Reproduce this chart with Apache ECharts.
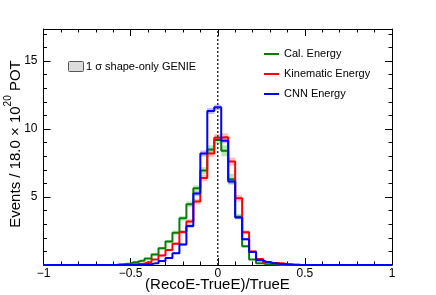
<!DOCTYPE html>
<html><head><meta charset="utf-8">
<script src="https://cdn.jsdelivr.net/npm/echarts@6/dist/echarts.min.js"></script>
<style>html,body{margin:0;padding:0;background:#fff;}#c{width:436px;height:295px;}</style>
</head><body><div id="c"></div>
<script>
// bin centres (width 0.04)
const binCenters = [-1.00,-0.96,-0.92,-0.88,-0.84,-0.80,-0.76,-0.72,-0.68,-0.64,-0.60,-0.56,-0.52,-0.48,-0.44,-0.40,-0.36,-0.32,-0.28,-0.24,-0.20,-0.16,-0.12,-0.08,-0.04,0.00,0.04,0.08,0.12,0.16,0.20,0.24,0.28,0.32,0.36,0.40,0.44,0.48,0.52,0.56,0.60,0.64,0.68,0.72,0.76,0.80,0.84,0.88,0.92,0.96,1.00];
const seriesNames = ['Cal. Energy','Kinematic Energy','CNN Energy'];
const calE = [0,0,0,0,0,0,0,0,0,0,0,0.05,0.1,0.2,0.32,0.47,0.78,1.23,1.72,2.38,3.43,4.47,5.64,6.94,8.5,9.19,8.4,6.3,3.55,1.37,0.4,0.12,0.06,0.03,0,0,0,0,0,0,0,0,0,0,0,0,0,0,0,0,0];
const calErr = [0,0,0,0,0,0,0,0,0,0,0,0.02,0.03,0.04,0.05,0.06,0.08,0.1,0.12,0.15,0.18,0.2,0.22,0.25,0.3,0.3,0.4,0.4,0.2,0.1,0.04,0.02,0.01,0.01,0,0,0,0,0,0,0,0,0,0,0,0,0,0,0,0,0];
const kinE = [0,0,0,0,0,0,0,0,0,0,0,0,0.03,0.06,0.1,0.2,0.4,0.7,1.1,1.57,2.43,3.2,4.66,6.4,8.2,9.36,9.4,7.6,4.9,2.4,1.0,0.44,0.2,0.15,0.12,0.06,0.02,0,0,0,0,0,0,0,0,0,0,0,0,0,0];
const kinErr = [0,0,0,0,0,0,0,0,0,0,0,0,0.01,0.02,0.03,0.04,0.05,0.07,0.09,0.11,0.14,0.17,0.2,0.24,0.25,0.25,0.28,0.3,0.25,0.15,0.08,0.04,0.03,0.02,0.01,0.01,0.01,0,0,0,0,0,0,0,0,0,0,0,0,0,0];
const cnnE = [0,0,0,0,0,0,0,0,0,0,0,0,0,0,0.02,0.05,0.12,0.3,0.52,0.87,1.5,2.87,5.25,8.2,11.32,11.59,9.14,6.13,3.5,1.89,0.95,0.35,0.22,0.12,0.07,0.04,0.02,0,0,0,0,0,0,0,0,0,0,0,0,0,0];
const cnnErr = [0,0,0,0,0,0,0,0,0,0,0,0,0,0,0.01,0.02,0.03,0.04,0.06,0.08,0.1,0.14,0.18,0.22,0.22,0.2,0.2,0.18,0.12,0.08,0.05,0.03,0.02,0.01,0.01,0.01,0.01,0,0,0,0,0,0,0,0,0,0,0,0,0,0];
const xTickLabels = {'-1':'\u22121','-0.5':'\u22120.5','0':'0','0.5':'0.5','1':'1'};
const yTickLabels = {'5':'5','10':'10','15':'15'};
const xMin = -1, xMax = 1, yMin = 0, yMax = 17.35;

const lineColors = ['#0b7a0b','#ff0000','#0000ff'];
const bandColors = ['rgba(60,210,60,0.4)','rgba(255,90,90,0.4)','rgba(90,90,255,0.4)'];
const halfW = 0.02;

function bandSeries(vals, errs, idx){
  const data = binCenters.map((c,i)=>[c, vals[i]-errs[i], vals[i]+errs[i]]).filter((d,i)=>errs[i]>0);
  return {
    type:'custom', silent:true, z:1,
    data: data,
    encode:{x:0,y:[1,2]},
    renderItem: function(params, api){
      const c = api.value(0), lo = api.value(1), hi = api.value(2);
      const p1 = api.coord([c-halfW, hi]);
      const p2 = api.coord([c+halfW, lo]);
      return {type:'rect', shape:{x:p1[0], y:p1[1], width:p2[0]-p1[0], height:p2[1]-p1[1]}, style:{fill:bandColors[idx]}};
    }
  };
}
function lineSeries(vals, idx){
  return {
    name: seriesNames[idx], type:'line', step:'middle', symbol:'none', clip:false, z:3+idx,
    data: binCenters.map((c,i)=>[c, vals[i]]),
    lineStyle:{color:lineColors[idx], width:2}, itemStyle:{color:lineColors[idx]}
  };
}

const chart = echarts.init(document.getElementById('c'), null, {renderer:'canvas'});
const fontFam = 'Liberation Sans, Arial, sans-serif';
const tickCommon = (len) => ({show:true, inside:true, length:len, lineStyle:{color:'#000', width:1}});
chart.setOption({
  animation:false,
  backgroundColor:'#fff',
  grid:{left:43.5, right:44, top:29, bottom:30, show:false},
  xAxis:[
    {type:'value', min:xMin, max:xMax, interval:0.5, position:'bottom',
     axisLine:{show:true, onZero:false, lineStyle:{color:'#000', width:1}},
     axisTick:tickCommon(7), minorTick:{show:true, splitNumber:5, length:3.5, lineStyle:{color:'#000', width:1}},
     splitLine:{show:false},
     axisLabel:{margin:3, fontSize:12, color:'#000', fontFamily:fontFam, formatter:v=>xTickLabels[String(v)] ?? ''}},
    {type:'value', min:xMin, max:xMax, interval:0.5, position:'top',
     axisLine:{show:true, onZero:false, lineStyle:{color:'#000', width:1}},
     axisTick:tickCommon(7), minorTick:{show:true, splitNumber:5, length:3.5, lineStyle:{color:'#000', width:1}},
     splitLine:{show:false}, axisLabel:{show:false}}
  ],
  yAxis:[
    {type:'value', min:yMin, max:yMax, interval:5, position:'left',
     axisLine:{show:true, onZero:false, lineStyle:{color:'#000', width:1}},
     axisTick:tickCommon(7), splitLine:{show:false},
     axisLabel:{margin:6, fontSize:12, color:'#000', fontFamily:fontFam, showMaxLabel:false, formatter:v=>yTickLabels[String(v)] ?? ''}},
    {type:'value', min:yMin, max:yMax, interval:1, position:'left',
     axisLine:{show:false, onZero:false}, axisTick:tickCommon(3.5), splitLine:{show:false}, axisLabel:{show:false}},
    {type:'value', min:yMin, max:yMax, interval:5, position:'right',
     axisLine:{show:true, onZero:false, lineStyle:{color:'#000', width:1}},
     axisTick:tickCommon(7), splitLine:{show:false}, axisLabel:{show:false}},
    {type:'value', min:yMin, max:yMax, interval:1, position:'right',
     axisLine:{show:false, onZero:false}, axisTick:tickCommon(3.5), splitLine:{show:false}, axisLabel:{show:false}}
  ],
  legend:{
    orient:'vertical', left:264, top:47, padding:0, itemGap:6, itemWidth:15, itemHeight:2, icon:'rect',
    data:seriesNames,
    textStyle:{fontSize:11, lineHeight:14, color:'#000', fontFamily:fontFam}
  },
  series:[
    bandSeries(calE, calErr, 0), bandSeries(kinE, kinErr, 1), bandSeries(cnnE, cnnErr, 2),
    lineSeries(calE,0), lineSeries(kinE,1), lineSeries(cnnE,2),
    {type:'line', symbol:'none', silent:true, z:10, clip:false, data:[[0,yMin],[0,yMax]],
     lineStyle:{color:'#333', width:1.5, type:[2,2]}}
  ],
  graphic:[
    {type:'rect', left:68, top:61, shape:{width:15, height:10, r:1}, style:{fill:'#dcdcdc', stroke:'#555', lineWidth:1}},
    {type:'text', x:86, y:66.5, style:{text:'1 \u03c3 shape-only GENIE', fontSize:11, fontFamily:fontFam, fill:'#000', textAlign:'left', textVerticalAlign:'middle'}},
    {type:'text', x:217.5, y:285, style:{text:'(RecoE-TrueE)/TrueE', fontSize:15, fontFamily:fontFam, fill:'#000', textAlign:'center', textVerticalAlign:'middle'}},
    {type:'text', x:13, y:144, rotation:Math.PI/2,
     style:{text:'{a|Events / 18.0 \u00d7 10}{b|20}{a| POT}', textAlign:'center', textVerticalAlign:'middle', fill:'#000',
       rich:{a:{fontSize:15, fontFamily:fontFam, lineHeight:20, verticalAlign:'bottom'}, b:{fontSize:10, fontFamily:fontFam, lineHeight:20, verticalAlign:'top', padding:[0,0,6,0]}}}}
  ]
});
</script></body></html>
